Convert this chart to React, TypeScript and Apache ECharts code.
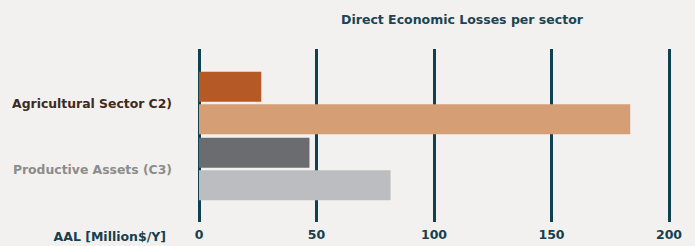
import React, { useEffect, useRef } from "react";
import * as echarts from "echarts";

const categories = ["Productive Assets (C3)", "Agricultural Sector C2)"];
const seriesDark = [47, 26.5];
const seriesLight = [81.5, 183.5];
const darkColors = ["#6b6c6f", "#b55a26"];
const lightColors = ["#bcbdc0", "#d69e74"];
const labelColors = ["#8c8c8c", "#3d2a20"];
const xTicks = [0, 50, 100, 150, 200];

const FONT = "DejaVu Sans";
const LINE = "#0d4254";

export default function App() {
  const ref = useRef<HTMLDivElement>(null);
  useEffect(() => {
    document.body.style.margin = "0";
    const chart = echarts.init(ref.current!, null, { renderer: "svg" });
    chart.setOption({
      animation: false,
      backgroundColor: "#f3f1ef",
      title: [
        {
          text: "Direct Economic Losses per sector",
          left: 457,
          top: 8,
          textAlign: "center",
          textStyle: { fontFamily: FONT, fontWeight: "bold", fontSize: 12.5, color: "#1a4556" },
        },
        {
          text: "AAL [Million$/Y]",
          right: 524,
          top: 225,
          textStyle: { fontFamily: FONT, fontWeight: "bold", fontSize: 12.5, color: "#163f50" },
        },
      ],
      grid: { left: 199, right: 26, top: 70, bottom: 44, containLabel: false },
      xAxis: [
        {
          type: "value",
          position: "bottom",
          min: xTicks[0],
          max: xTicks[xTicks.length - 1],
          interval: 50,
          axisLine: { show: false },
          axisTick: { show: true, length: 20, lineStyle: { color: LINE, width: 3 } },
          splitLine: { show: true, lineStyle: { color: LINE, width: 3 } },
          axisLabel: {
            margin: 26,
            fontFamily: FONT,
            fontWeight: "bold",
            fontSize: 12.5,
            color: "#163f50",
          },
        },
        {
          type: "value",
          position: "top",
          min: xTicks[0],
          max: xTicks[xTicks.length - 1],
          interval: 50,
          axisLine: { show: false },
          axisTick: { show: true, length: 21, lineStyle: { color: LINE, width: 3 } },
          splitLine: { show: false },
          axisLabel: { show: false },
        },
      ],
      yAxis: {
        type: "category",
        data: categories.map((c, i) => ({
          value: c,
          textStyle: { color: labelColors[i] },
        })),
        axisLine: { show: false },
        axisTick: { show: false },
        axisLabel: {
          margin: 27,
          fontFamily: FONT,
          fontWeight: "bold",
          fontSize: 12.4,
        },
      },
      series: [
        {
          type: "bar",
          data: seriesDark.map((v, i) => ({ value: v, itemStyle: { color: darkColors[i] } })),
          barWidth: 30,
          barGap: "8%",
        },
        {
          type: "bar",
          data: seriesLight.map((v, i) => ({ value: v, itemStyle: { color: lightColors[i] } })),
          barWidth: 30,
          barGap: "8%",
        },
      ],
    });
    return () => chart.dispose();
  }, []);
  return <div ref={ref} style={{ width: 695, height: 246 }} />;
}
